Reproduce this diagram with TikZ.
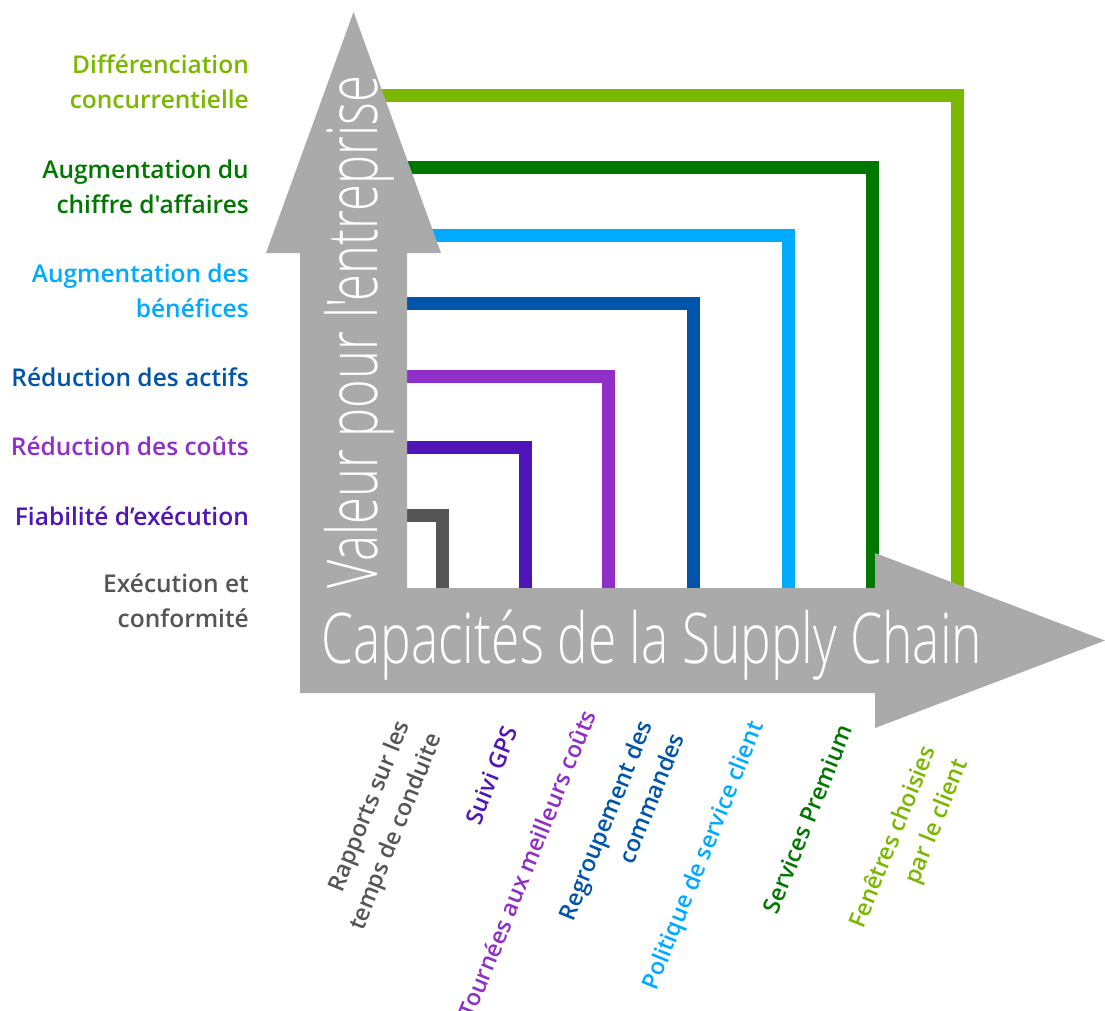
\documentclass[tikz,border=0pt]{standalone}
\usepackage{fontspec}
\usepackage{graphicx}
\setmainfont{Open Sans}
\newfontfamily\lightfont{Open Sans Light}
\IfFontExistsTF{Open Sans Semibold}{\newfontfamily\semifont{Open Sans Semibold}}{%
  \IfFontExistsTF{Open Sans SemiBold}{\newfontfamily\semifont{Open Sans SemiBold}}{%
    \newfontfamily\semifont{Open Sans Bold}}}
\definecolor{cgreenl}{RGB}{122,184,0}
\definecolor{cgreend}{RGB}{0,120,0}
\definecolor{cbluel}{RGB}{0,170,255}
\definecolor{cblued}{RGB}{0,85,170}
\definecolor{cpurple}{RGB}{143,47,200}
\definecolor{cindigo}{RGB}{80,21,184}
\definecolor{cgrayd}{RGB}{85,85,85}
\definecolor{carrow}{RGB}{170,170,170}
\tikzset{
  lvl/.style={line width=13pt, miter limit=10},
  leftlab/.style={anchor=base east, inner sep=0pt, align=right, font=\semifont\fontsize{24.5}{35}\selectfont},
  botlab/.style={rotate=68, anchor=center, inner sep=0pt, align=right, font=\semifont\fontsize{23.3}{34}\selectfont},
  bigtext/.style={text=white, inner sep=0pt, font=\lightfont\fontsize{70}{80}\selectfont}
}
\begin{document}
\begin{tikzpicture}[x=1pt,y=-1pt]
\useasboundingbox (0,0) rectangle (1105,1010);
% level lines
\draw[lvl, cgrayd]  (360,515.5) -- (442.5,515.5) -- (442.5,600);
\draw[lvl, cindigo] (360,447)   -- (525.5,447)   -- (525.5,600);
\draw[lvl, cpurple] (360,376.5) -- (608,376.5)   -- (608,600);
\draw[lvl, cblued]  (360,303.5) -- (693,303.5)   -- (693,600);
\draw[lvl, cbluel]  (360,235.5) -- (788,235.5)   -- (788,600);
\draw[lvl, cgreend] (360,167.3) -- (872.3,167.3) -- (872.3,600);
\draw[lvl, cgreenl] (360,95.7)  -- (957.7,95.7)  -- (957.7,600);
% arrows
\fill[carrow] (300,693) -- (300,253) -- (266,253) -- (353.5,12) -- (441,253) -- (407,253)
  -- (407,588) -- (875,588) -- (875,553) -- (1105,640.5) -- (875,728) -- (875,693) -- cycle;
\node[bigtext, anchor=base west] (xlab) at (321,663) {\resizebox{661pt}{\height}{Capacités de la Supply Chain}};
\node[bigtext, rotate=90, anchor=base west] (ylab) at (377,589) {\resizebox{513pt}{\height}{Valeur pour l'entreprise}};
% left labels
\node[leftlab, text=cgreenl] (l7) at (249,108) {Différenciation\\concurrentielle};
\node[leftlab, text=cgreend] (l6) at (249,213) {Augmentation du\\chiffre d'affaires};
\node[leftlab, text=cbluel]  (l5) at (249,317) {Augmentation des\\bénéfices};
\node[leftlab, text=cblued]  (l4) at (249,386) {Réduction des actifs};
\node[leftlab, text=cpurple] (l3) at (249,455) {Réduction des coûts};
\node[leftlab, text=cindigo] (l2) at (249,525) {Fiabilité d’exécution};
\node[leftlab, text=cgrayd]  (l1) at (249,627) {Exécution et\\conformité};
% bottom labels
\node[botlab, text=cgrayd]  (b1) at (381,826) {Rapports sur les\\temps de conduite};
\node[botlab, text=cindigo] (b2) at (491.5,775) {Suivi GPS};
\node[botlab, text=cpurple] (b3) at (527,864) {Tournées aux meilleurs coûts};
\node[botlab, text=cblued]  (b4) at (621,826.5) {Regroupement des\\commandes};
\node[botlab, text=cbluel]  (b5) at (704.5,856) {Politique de service client};
\node[botlab, text=cgreend] (b6) at (807.5,819) {Services Premium};
\node[botlab, text=cgreenl] (b7) at (910,844) {Fenêtres choisies\\par le client};
\end{tikzpicture}
\end{document}
